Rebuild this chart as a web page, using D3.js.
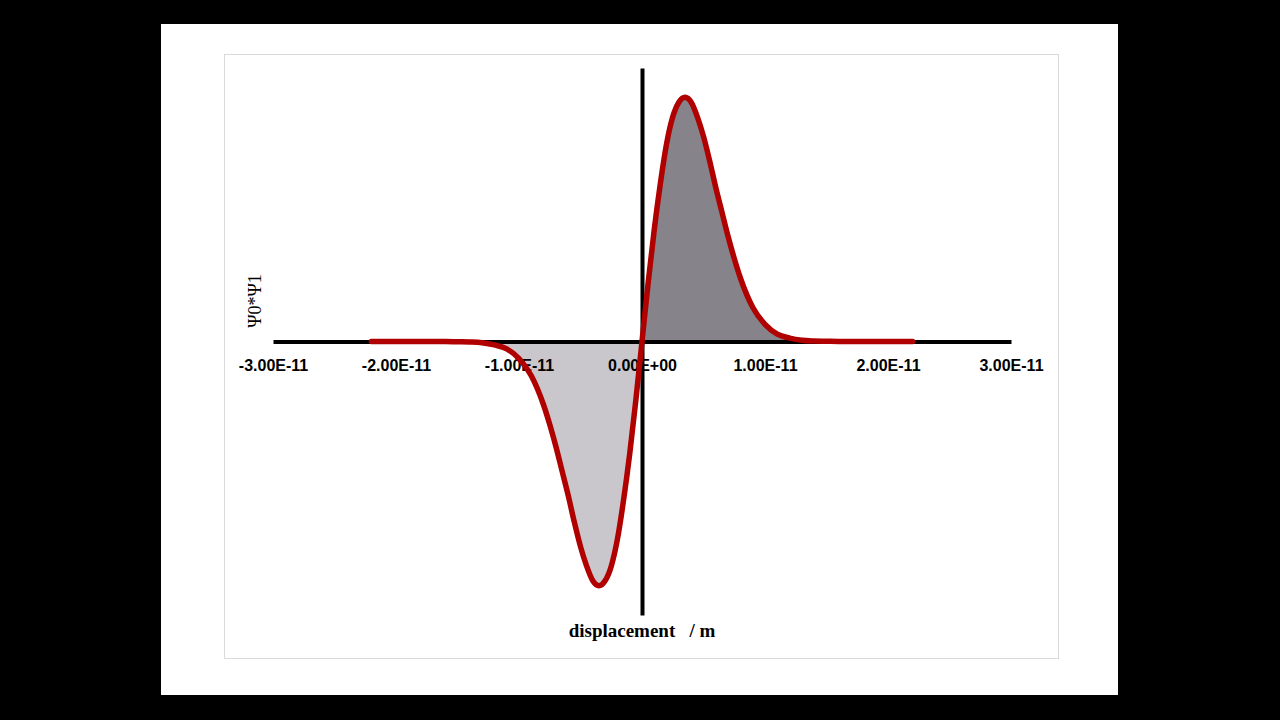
<!DOCTYPE html>
<html>
<head>
<meta charset="utf-8">
<script src="https://cdn.jsdelivr.net/npm/d3@7"></script>
<style>
	body { margin: 0; background: #000; }
	svg { display: block; }
</style>
</head>
<body>
<div class="container"></div>
<script>

// displacement in units of 1e-12 m (picometres)
var displacement = [-22, -20, -18, -16, -15, -14, -13, -12, -11, -10, -9, -8,
					-7.5, -7, -6.5, -6, -5.5, -5, -4.5, -4, -3.5, -3, -2.5, -2, -1.5, -1, -0.5,
					0,
					0.5, 1, 1.5, 2, 2.5, 3, 3.5, 4, 4.5, 5, 5.5, 6, 6.5, 7, 7.5,
					8, 9, 10, 11, 12, 13, 14, 15, 16, 18, 20, 22];

// psi0*psi1, arbitrary units (peak ~ 1)
var product = [0, 0, 0, 0, -0.001, -0.002, -0.005, -0.014, -0.03, -0.07, -0.14, -0.26,
			   -0.34, -0.43, -0.53, -0.63, -0.74, -0.84, -0.92, -0.98, -1.00, -0.98, -0.92, -0.81, -0.65, -0.46, -0.24,
			   0,
			   0.24, 0.46, 0.65, 0.81, 0.92, 0.98, 1.00, 0.98, 0.92, 0.84, 0.74, 0.63, 0.53, 0.43, 0.34,
			   0.26, 0.14, 0.07, 0.03, 0.014, 0.005, 0.002, 0.001, 0, 0, 0, 0];

var xTicks = [-30, -20, -10, 0, 10, 20, 30];

var xTitle = "displacement   / m";
var yTitle = "\u03A80*\u03A81";


function makeStage(w, h) {
	var stage = d3.select(".container")
				  .insert("svg")
				  .attr("width", w)
				  .attr("height", h);
	return stage;
}

function sciLabel(v) {
	// 1e-12 m units -> "1.00E-11" style
	var s = (v * 1e-12).toExponential(2).toUpperCase();
	var parts = s.split("E");
	var sign = parts[1].charAt(0);
	var exp = parts[1].slice(1);
	if (exp.length < 2) exp = "0" + exp;
	return parts[0] + "E" + sign + exp;
}

var stage = makeStage(1280, 720);

// slide + chart frame
stage.append("rect")
	 .attr("x", 161).attr("y", 24)
	 .attr("width", 957).attr("height", 671)
	 .style("fill", "#fff");

stage.append("rect")
	 .attr("x", 224.5).attr("y", 54.5)
	 .attr("width", 834).attr("height", 604)
	 .style("fill", "none")
	 .style("stroke", "#dadada")
	 .style("stroke-width", "1px");

var x = d3.scaleLinear().domain([-30, 30]).range([273, 1011]);
var y = d3.scaleLinear().domain([-1.12, 1.12]).range([615, 68]);

var points = displacement.map(function (d, i) { return {x: d, y: product[i]}; });

var area = d3.area()
			 .curve(d3.curveMonotoneX)
			 .x(function (d) { return x(d.x); })
			 .y0(y(0))
			 .y1(function (d) { return y(d.y); });

stage.append("path")
	 .datum(points.filter(function (d) { return d.x <= 0; }))
	 .attr("d", area)
	 .style("fill", "#c9c7cc");

stage.append("path")
	 .datum(points.filter(function (d) { return d.x >= 0; }))
	 .attr("d", area)
	 .style("fill", "#86838a");

// x axis, through zero
var xAxis = d3.axisBottom(x)
			  .tickValues(xTicks)
			  .tickSize(0)
			  .tickPadding(18)
			  .tickFormat(sciLabel);

var gx = stage.append("g")
			  .attr("transform", "translate(0," + y(0) + ")")
			  .call(xAxis);

gx.select(".domain")
  .style("stroke", "#000")
  .style("stroke-width", "4px");

gx.selectAll("text")
  .style("font-family", "'Liberation Sans', Arial, sans-serif")
  .style("font-weight", "bold")
  .style("font-size", "16px")
  .style("fill", "#000");

// y axis, through zero, no labels
var yAxis = d3.axisLeft(y).tickValues([]).tickSizeOuter(0);

var gy = stage.append("g")
			  .attr("transform", "translate(" + x(0) + ",0)")
			  .call(yAxis);

gy.select(".domain")
  .style("stroke", "#000")
  .style("stroke-width", "4px");

// the curve
var line = d3.line()
			 .curve(d3.curveMonotoneX)
			 .x(function (d) { return x(d.x); })
			 .y(function (d) { return y(d.y); });

stage.append("path")
	 .datum(points)
	 .attr("d", line)
	 .style("fill", "none")
	 .style("stroke", "#b00000")
	 .style("stroke-width", "5.5px")
	 .style("stroke-linejoin", "round")
	 .style("stroke-linecap", "round");

// titles
stage.append("text")
	 .attr("x", x(0))
	 .attr("y", 637)
	 .attr("text-anchor", "middle")
	 .style("white-space", "pre")
	 .style("font-family", "'Liberation Serif', 'Times New Roman', serif")
	 .style("font-weight", "bold")
	 .style("font-size", "19px")
	 .text(xTitle);

stage.append("text")
	 .attr("transform", "translate(255,301) rotate(-90)")
	 .attr("text-anchor", "middle")
	 .attr("dy", "0.35em")
	 .style("font-family", "'Liberation Serif', 'Times New Roman', serif")
	 .style("font-size", "18px")
	 .text(yTitle);

</script>
</body>
</html>
